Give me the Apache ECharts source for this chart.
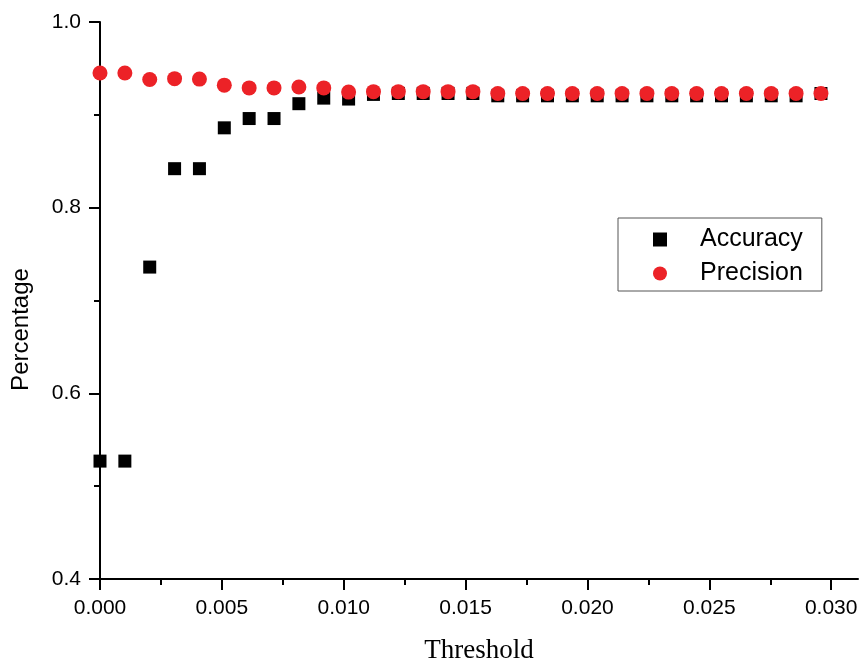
<!DOCTYPE html>
<html>
<head>
<meta charset="utf-8">
<title>Accuracy / Precision vs Threshold</title>
<script src="https://cdn.jsdelivr.net/npm/echarts@6/dist/echarts.min.js"></script>
<style>
  html, body { margin: 0; padding: 0; background: #fff; }
  #chart { width: 862px; height: 663px; }
</style>
</head>
<body>
<div id="chart"></div>
<script>
// threshold values (x)
const thresholds = [
  0, 0.00102, 0.00204, 0.00306, 0.00408, 0.0051, 0.00612, 0.00714, 0.00816, 0.00918,
  0.0102, 0.01122, 0.01224, 0.01326, 0.01428, 0.0153, 0.01632, 0.01734, 0.01836, 0.01938,
  0.0204, 0.02142, 0.02244, 0.02346, 0.02448, 0.0255, 0.02652, 0.02754, 0.02856, 0.02958
];

const accuracy = [
  0.527, 0.527, 0.736, 0.842, 0.842, 0.886, 0.896, 0.896, 0.912, 0.918,
  0.917, 0.922, 0.923, 0.923, 0.923, 0.923, 0.9205, 0.9205, 0.9205, 0.9205,
  0.9205, 0.9205, 0.9205, 0.9205, 0.9205, 0.9205, 0.9205, 0.9205, 0.9205, 0.923
];

const precision = [
  0.945, 0.945, 0.938, 0.939, 0.9385, 0.932, 0.929, 0.929, 0.930, 0.929,
  0.9245, 0.925, 0.925, 0.925, 0.925, 0.925, 0.923, 0.923, 0.923, 0.923,
  0.923, 0.923, 0.923, 0.923, 0.923, 0.923, 0.923, 0.923, 0.923, 0.923
];

const xMajorTicks = [0, 0.005, 0.01, 0.015, 0.02, 0.025, 0.03];
const xMinorTicks = [0.0025, 0.0075, 0.0125, 0.0175, 0.0225, 0.0275];

const seriesNames = ['Accuracy', 'Precision'];

const chart = echarts.init(document.getElementById('chart'));

const toPairs = (ys) => thresholds.map((x, i) => [x, ys[i]]);

const axisText = {
  color: '#000',
  fontFamily: 'Liberation Sans, Arial, sans-serif',
  fontSize: 21
};

const option = {
  animation: false,
  backgroundColor: '#fff',
  grid: {
    left: 100,
    right: 4,
    top: 22,
    bottom: 84,
    outerBoundsMode: 'none'
  },
  legend: {
    data: [
      { name: seriesNames[0], icon: 'rect' },
      { name: seriesNames[1], icon: 'circle' }
    ],
    orient: 'vertical',
    left: 618,
    top: 218,
    padding: [9, 19, 5, 35],
    itemWidth: 14,
    itemHeight: 14,
    itemGap: 9,
    borderColor: '#555',
    borderWidth: 1,
    textStyle: {
      color: '#000',
      fontFamily: 'Liberation Sans, Arial, sans-serif',
      fontSize: 25,
      lineHeight: 24,
      padding: [0, 0, 0, 28]
    }
  },
  xAxis: [
    {
      type: 'value',
      min: 0,
      max: 0.0311,
      position: 'bottom',
      name: 'Threshold',
      nameLocation: 'middle',
      nameGap: 58,
      nameTextStyle: {
        color: '#000',
        fontFamily: 'Liberation Serif, Times New Roman, serif',
        fontSize: 27
      },
      splitLine: { show: false },
      axisLine: { lineStyle: { color: '#000', width: 2 } },
      axisTick: {
        customValues: xMajorTicks,
        length: 11,
        lineStyle: { color: '#000', width: 2 }
      },
      axisLabel: Object.assign({
        customValues: xMajorTicks,
        margin: 19,
        formatter: (v) => v.toFixed(3)
      }, axisText)
    },
    {
      type: 'value',
      min: 0,
      max: 0.0311,
      position: 'bottom',
      splitLine: { show: false },
      axisLine: { show: false },
      axisLabel: { show: false },
      axisTick: {
        customValues: xMinorTicks,
        length: 6,
        lineStyle: { color: '#000', width: 2 }
      }
    }
  ],
  yAxis: {
    type: 'value',
    min: 0.4,
    max: 1.0,
    interval: 0.2,
    name: 'Percentage',
    nameLocation: 'middle',
    nameGap: 67,
    nameTextStyle: {
      color: '#000',
      fontFamily: 'Liberation Sans, Arial, sans-serif',
      fontSize: 24,
      padding: [0, 58, 0, 0]
    },
    splitLine: { show: false },
    axisLine: { show: true, lineStyle: { color: '#000', width: 2 } },
    axisTick: { show: true, length: 11, lineStyle: { color: '#000', width: 2 } },
    minorTick: { show: true, splitNumber: 2, length: 6, lineStyle: { color: '#000', width: 2 } },
    axisLabel: Object.assign({
      margin: 19,
      formatter: (v) => v.toFixed(1)
    }, axisText)
  },
  series: [
    {
      name: seriesNames[0],
      type: 'scatter',
      symbol: 'rect',
      symbolSize: 13,
      itemStyle: { color: '#000', opacity: 1 },
      data: toPairs(accuracy)
    },
    {
      name: seriesNames[1],
      type: 'scatter',
      symbol: 'circle',
      symbolSize: 15,
      itemStyle: { color: '#ec2227', opacity: 1 },
      data: toPairs(precision)
    }
  ]
};

chart.setOption(option);
</script>
</body>
</html>
